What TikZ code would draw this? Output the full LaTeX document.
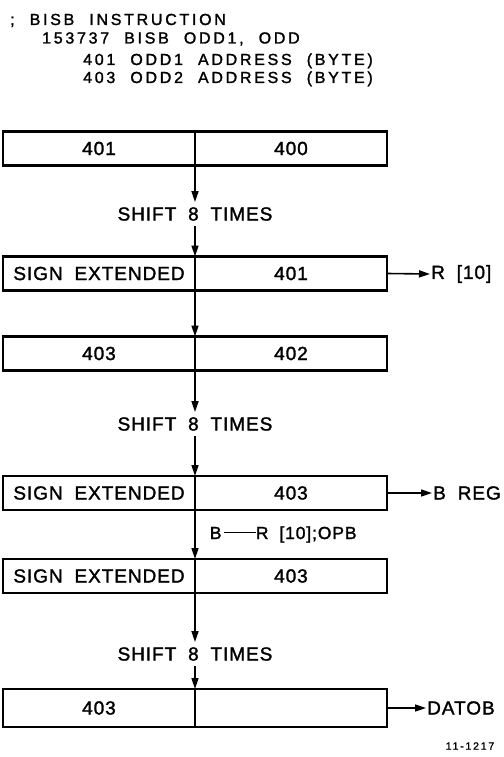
\documentclass[tikz,border=0pt]{standalone}
\usepackage{fontspec}
\newfontfamily\headfont[LetterSpace=17,WordSpace=2.1,FakeBold=1.6]{Liberation Sans}
\newfontfamily\cellfont[LetterSpace=5,WordSpace=1.9,FakeBold=1.6]{Liberation Sans}
\usetikzlibrary{arrows.meta,positioning}

\begin{document}
\begin{tikzpicture}[x=1pt,y=-1pt,
  cell/.style={draw,line width=2.6pt,minimum width=192pt,minimum height=34pt,
    inner sep=0pt,outer sep=0pt,font=\cellfont\fontsize{19}{21}\selectfont},
  tag/.style={font=\cellfont\fontsize{19}{21}\selectfont,inner sep=5pt},
  head/.style={anchor=base west,inner sep=0pt,font=\headfont\fontsize{16}{18}\selectfont},
  flow/.style={line width=1.6pt,-{Triangle[length=11pt,width=7pt]}}]
  \useasboundingbox (0,0) rectangle (503,757);
  % listing
  \node[head] (h1) at (10,25) {; BISB INSTRUCTION};
  \node[head] (h2) at (42,43.5) {153737 BISB ODD1, ODD};
  \node[head] (h3) at (83,65) {401 ODD1 ADDRESS (BYTE)};
  \node[head] (h4) at (83,83) {403 ODD2 ADDRESS (BYTE)};
  % registers
  \node[cell] (l1) at (99,148.5) {401};
  \node[cell,right=0pt of l1] (r1) {400};
  \node[tag] (s1) at (195,214) {SHIFT 8 TIMES};
  \node[cell] (l2) at (99,273.5) {SIGN EXTENDED};
  \node[cell,right=0pt of l2] (r2) {401};
  \node[cell] (l3) at (99,353.5) {403};
  \node[cell,right=0pt of l3] (r3) {402};
  \node[tag] (s2) at (195,424) {SHIFT 8 TIMES};
  \node[cell] (l4) at (99,493) {SIGN EXTENDED};
  \node[cell,right=0pt of l4] (r4) {403};
  \node[cell] (l5) at (99,576) {SIGN EXTENDED};
  \node[cell,right=0pt of l5] (r5) {403};
  \node[tag] (s3) at (195,654) {SHIFT 8 TIMES};
  \node[cell,minimum height=38pt] (l6) at (99,708) {403};
  \node[cell,minimum height=38pt,right=0pt of l6] (r6) {};
  % destinations
  \node[tag,anchor=west,inner sep=1pt] (rten) at (430,274) {R [10]};
  \node[tag,anchor=west,inner sep=1pt] (breg) at (432,493) {B REG};
  \node[tag,anchor=west,inner sep=1pt] (datob) at (426,708) {DATOB};
  \node[font=\headfont\fontsize{10.5}{12}\selectfont] (fig) at (470,746) {11-1217};
  % data flow
  \draw[flow] (l1.south east) -- (s1.north);
  \draw[flow] (s1.south) -- (l2.north east);
  \draw[flow] (l2.south east) -- (l3.north east);
  \draw[flow] (l3.south east) -- (s2.north);
  \draw[flow] (s2.south) -- (l4.north east);
  \draw[flow] (l4.south east) -- node[right,xshift=12pt,inner sep=2pt,
    font=\cellfont\fontsize{17.5}{19}\selectfont] (opb)
    {B\,\rule[0.33em]{1.8em}{0.9pt}R [10];OPB} (l5.north east);
  \draw[flow] (l5.south east) -- (s3.north);
  \draw[flow] (s3.south) -- (l6.north east);
  \draw[flow] (r2.east) -- (rten.west);
  \draw[flow] (r4.east) -- (breg.west);
  \draw[flow] (r6.east) -- (datob.west);
\end{tikzpicture}
\end{document}
